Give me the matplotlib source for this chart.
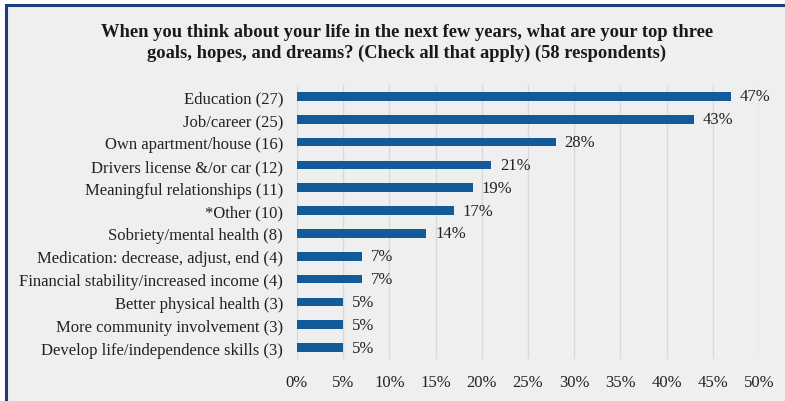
import matplotlib.pyplot as plt
from matplotlib.patches import Rectangle

categories = [
    "Education (27)",
    "Job/career (25)",
    "Own apartment/house (16)",
    "Drivers license &/or car (12)",
    "Meaningful relationships (11)",
    "*Other (10)",
    "Sobriety/mental health (8)",
    "Medication: decrease, adjust, end (4)",
    "Financial stability/increased income (4)",
    "Better physical health (3)",
    "More community involvement (3)",
    "Develop life/independence skills (3)",
]
percents = [47, 43, 28, 21, 19, 17, 14, 7, 7, 5, 5, 5]
xticks = list(range(0, 55, 5))

title = ("When you think about your life in the next few years, what are your top three\n"
         "goals, hopes, and dreams? (Check all that apply) (58 respondents)")

bar_color = "#125A9A"
bg = "#EFEFEF"
serif = ["Liberation Serif", "DejaVu Serif"]
plt.rcParams["font.family"] = serif

fig = plt.figure(figsize=(7.85, 4.02), dpi=100, facecolor="white")

# panel background with navy frame on top/left
frame = Rectangle((6 / 785, -0.2), 1.2, 1.2 - 6 / 402, transform=fig.transFigure,
                  facecolor=bg, edgecolor="#1F3C7A", linewidth=2.2, zorder=-5)
fig.patches.append(frame)

ax = fig.add_axes([297 / 785, 1 - 360 / 402, (759 - 297) / 785, (360 - 86) / 402])
ax.set_zorder(2)
ax.patch.set_alpha(0)

y = list(range(len(categories)))
ax.barh(y, percents, height=0.38, color=bar_color, zorder=3)
for yi, v in zip(y, percents):
    ax.text(v + 0.95, yi, f"{v}%", va="center", ha="left", fontsize=12, color="#222222")

ax.set_ylim(len(categories) - 0.5, -0.5)
ax.set_xlim(0, 50)
ax.set_yticks(y)
ax.set_yticklabels(categories, fontsize=12, color="#222222")
ax.set_xticks(xticks)
ax.set_xticklabels([f"{t}%" for t in xticks], fontsize=12, color="#222222")
ax.tick_params(axis="y", length=0, pad=10)
ax.tick_params(axis="x", length=0, pad=11)
ax.grid(axis="x", color="#D9D9D9", linewidth=1, zorder=0)
for s in ax.spines.values():
    s.set_visible(False)

fig.text(407 / 785, 1 - 43 / 402, title, ha="center", va="center", fontsize=13.3,
         fontweight="bold", color="#1a1a1a", linespacing=1.3, zorder=3)

fig.savefig("out.png", dpi=100, facecolor=fig.get_facecolor())
